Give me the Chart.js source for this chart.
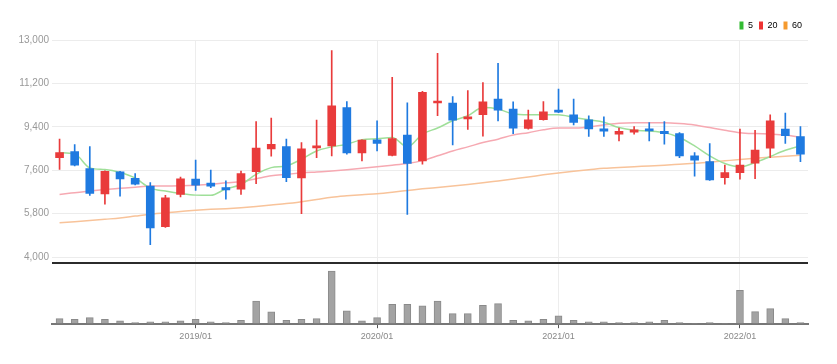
<!DOCTYPE html>
<html><head><meta charset="utf-8">
<script src="https://cdn.jsdelivr.net/npm/chart.js@4.4.1/dist/chart.umd.min.js"></script>
<style>html,body{margin:0;padding:0;background:#fff;}#wrap{width:837px;height:364px;position:relative;}</style>
</head><body><div id="wrap"><canvas id="c" width="837" height="364"></canvas></div>
<script>
const labels = ['2018/04','2018/05','2018/06','2018/07','2018/08','2018/09','2018/10','2018/11','2018/12',
'2019/01','2019/02','2019/03','2019/04','2019/05','2019/06','2019/07','2019/08','2019/09','2019/10','2019/11','2019/12',
'2020/01','2020/02','2020/03','2020/04','2020/05','2020/06','2020/07','2020/08','2020/09','2020/10','2020/11','2020/12',
'2021/01','2021/02','2021/03','2021/04','2021/05','2021/06','2021/07','2021/08','2021/09','2021/10','2021/11','2021/12',
'2022/01','2022/02','2022/03','2022/04','2022/05'];
const openP  = [8120,8370,7670,6620,7540,7270,6950,5260,6600,7230,7070,6880,6820,7540,8490,8580,7280,8530,8610,10200,8320,8860,8220,9060,7990,10390,10390,9730,9910,10550,10140,9330,9700,10090,9900,9690,9320,9100,9180,9320,9210,9120,8200,7960,7290,7500,7890,8520,9310,9000];
const highP  = [8890,8670,8580,7580,7560,7460,7090,6560,7320,8020,7610,7160,7570,9620,9760,8890,8750,9680,12560,10450,8860,9650,11450,10400,10870,12450,10650,10900,11240,12030,10440,10090,10450,10970,10550,9860,9820,9350,9410,9580,9620,9160,8330,8710,7820,9310,9260,9900,9970,9410];
const lowP   = [7640,7780,6560,6200,6530,6990,4520,5230,6500,6770,6880,6400,6600,7040,8180,7130,5800,8120,8200,8270,7990,8400,8200,5770,7850,9860,8650,9290,9010,9650,9120,9300,9680,9990,9480,9000,9000,8820,9100,8820,8680,8120,7360,7180,7020,7230,7250,8120,8710,7960];
const closeP = [8330,7810,6640,7560,7240,7020,5210,6460,7250,6980,6940,6790,7460,8520,8680,7290,8490,8600,10270,8320,8850,8710,8910,7880,10830,10440,9680,9820,10440,10090,9350,9690,10020,10010,9580,9310,9220,9210,9280,9230,9120,8200,8020,7200,7500,7820,8440,9650,9030,8270];
const volume = [170,150,200,150,100,50,70,70,100,150,70,50,120,700,370,120,150,170,1600,400,100,200,600,600,550,700,320,320,570,620,120,100,150,250,120,70,70,50,50,70,120,50,30,50,30,1020,380,470,170,50];
const ma5  = [8330,8280,7700,7630,7510,7280,6860,6740,6640,6570,6560,6830,7010,7430,7710,7780,8060,8400,8570,8680,8870,8910,8960,8570,9100,9350,9650,9860,10200,10140,9930,9900,9900,9900,9790,9690,9590,9370,9260,9230,9160,8960,8610,8200,7880,7740,7920,8170,8430,8610];
const ma20 = [6600,6670,6740,6800,6850,6900,6950,6950,6960,6980,7020,7080,7130,7250,7370,7430,7490,7530,7570,7620,7680,7750,7810,7880,8000,8200,8400,8570,8750,8890,9060,9160,9280,9350,9350,9400,9480,9550,9570,9570,9570,9540,9480,9370,9260,9160,9120,9100,9060,8960];
const ma60 = [5420,5470,5520,5570,5620,5700,5780,5840,5890,5940,5980,6010,6050,6100,6160,6220,6300,6390,6480,6540,6590,6630,6690,6760,6830,6890,6950,7010,7080,7160,7240,7320,7410,7490,7560,7620,7680,7720,7750,7780,7810,7850,7890,7930,7990,8050,8100,8140,8180,8220];
const priceTicks = [4000,5800,7600,9400,11200,13000];
const yearLabels = ['2019/01','2020/01','2021/01','2022/01'];
const maNames = ['5','20','60'];

const UP = '#e93b3b', DOWN = '#1f7ae0';
const maLine = ['#9fdf99','#f6a9b2','#f8c39a'];
const maKey  = ['#33bb33','#ee3333','#f59a2e'];
const FONT = "'Liberation Sans Narrow','Liberation Sans',sans-serif";
const candleColor = labels.map((_, i) => closeP[i] >= openP[i] ? UP : DOWN);

const maData = [ma5, ma20, ma60];
const maSets = maData.map((d, k) => ({
  type: 'line', label: maNames[k], data: d, yAxisID: 'y',
  borderColor: maLine[k], backgroundColor: maLine[k], borderWidth: 1.5,
  pointRadius: 0, cubicInterpolationMode: 'monotone', order: 5 + k
}));

new Chart(document.getElementById('c'), {
  data: {
    labels: labels,
    datasets: [
      { type: 'bar', label: 'body', yAxisID: 'y', data: labels.map((_, i) => [openP[i], closeP[i]]),
        backgroundColor: candleColor, barThickness: 8, minBarLength: 2, grouped: false, order: 1 },
      { type: 'bar', label: 'wick', yAxisID: 'y', data: labels.map((_, i) => [lowP[i], highP[i]]),
        backgroundColor: candleColor, barThickness: 1, grouped: false, order: 2 },
      ...maSets,
      { type: 'bar', label: 'vol', yAxisID: 'yv', data: volume,
        backgroundColor: '#a3a3a3', borderColor: '#8a8a8a', borderWidth: 1, barThickness: 7, grouped: false, order: 3 }
    ]
  },
  options: {
    responsive: false, animation: false,
    layout: { padding: { left: 0, right: 29, top: 15, bottom: 19 } },
    plugins: {
      tooltip: { enabled: false },
      legend: {
        position: 'top', align: 'end',
        labels: {
          font: { family: FONT, size: 9 }, color: '#777', boxWidth: 4, boxHeight: 8, padding: 6,
          generateLabels: () => maNames.map((n, k) => ({ text: n, fillStyle: maKey[k], strokeStyle: maKey[k], lineWidth: 0, hidden: false, datasetIndex: 2 + k }))
        }
      }
    },
    scales: {
      x: {
        type: 'category', offset: true,
        grid: { offset: false, color: '#ededed', tickColor: '#555', tickLength: 4, drawTicks: true },
        border: { color: '#777', width: 2 },
        ticks: { autoSkip: false, maxRotation: 0, padding: 3, color: '#888', font: { family: FONT, size: 9 },
          callback: (v, i) => yearLabels.includes(labels[i]) ? labels[i] : null }
      },
      yv: {
        position: 'left', stack: 'main', stackWeight: 61, min: 0, max: 1840,
        afterBuildTicks: s => { s.ticks = [{ value: 0 }, { value: 1840 }]; },
        afterFit: s => { s.width = 52; },
        grid: { drawTicks: false, lineWidth: 2, color: c => c.tick && c.tick.value === 1840 ? '#2b2b2b' : 'rgba(0,0,0,0)' },
        border: { display: false },
        ticks: { display: false }
      },
      y: {
        position: 'left', stack: 'main', stackWeight: 223, min: 3750, max: 13000,
        afterBuildTicks: s => { s.ticks = priceTicks.map(v => ({ value: v })); },
        afterFit: s => { s.width = 52; },
        grid: { color: '#ececec', drawTicks: false },
        border: { display: false },
        ticks: { padding: 3, color: '#999', font: { family: FONT, size: 10 }, callback: v => Number(v).toLocaleString('en-US') }
      }
    }
  }
});
</script></body></html>
